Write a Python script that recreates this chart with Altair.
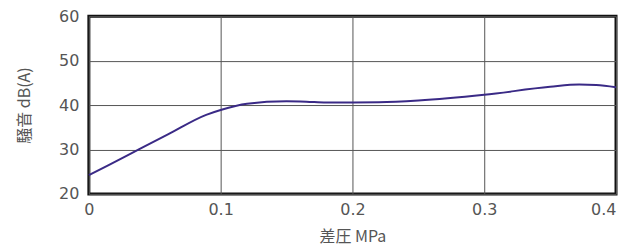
import altair as alt
import pandas as pd

pressure = [0.0, 0.030, 0.060, 0.089, 0.100, 0.120, 0.150, 0.165, 0.180, 0.200, 0.220, 0.250, 0.300, 0.350, 0.372, 0.385, 0.400]
noise = [24.2, 28.8, 33.4, 37.8, 38.9, 40.3, 40.85, 40.75, 40.55, 40.55, 40.6, 41.0, 42.3, 44.1, 44.6, 44.5, 44.0]
x_ticks = [0, 0.1, 0.2, 0.3, 0.4]
y_ticks = [20, 30, 40, 50, 60]

df = pd.DataFrame({"p": pressure, "n": noise})

label_font = "DejaVu Sans"
title_font = "Noto Sans CJK JP"

chart = alt.Chart(df).mark_line(color="#3a2a86", strokeWidth=2, interpolate="monotone").encode(
    x=alt.X("p:Q", scale=alt.Scale(domain=[0, 0.4], nice=False),
            axis=alt.Axis(values=x_ticks, title="差圧  MPa", labelExpr="datum.value == 0 ? '0' : format(datum.value, '.1f')",
                          grid=True, ticks=False, domain=False, labelPadding=8, labelFlush=False,
                          labelAlign={"expr": "datum.value >= 0.4 ? 'right' : 'center'"},
                          labelFont=label_font, labelFontSize=16, labelColor="#555",
                          titleFont=title_font, titleFontSize=16, titleFontWeight="normal", titleColor="#555",
                          titlePadding=11)),
    y=alt.Y("n:Q", scale=alt.Scale(domain=[20, 60], nice=False),
            axis=alt.Axis(values=y_ticks, title="騒音  dB(A)", grid=True, ticks=False, domain=False,
                          labelPadding=10, labelFont=label_font, labelFontSize=16, labelColor="#555",
                          titleFont=title_font, titleFontSize=16, titleFontWeight="normal", titleColor="#555",
                          titlePadding=26)),
).properties(
    width=528, height=178,
    autosize=alt.AutoSizeParams(type="none"),
    padding={"left": 81, "top": 8, "right": 8, "bottom": 50},
).configure_view(
    stroke="#111", strokeWidth=3
).configure_axis(
    gridColor="#555", gridWidth=1, gridOpacity=1
)

chart.save("out.html", embed_options={"renderer": "svg", "actions": False})
